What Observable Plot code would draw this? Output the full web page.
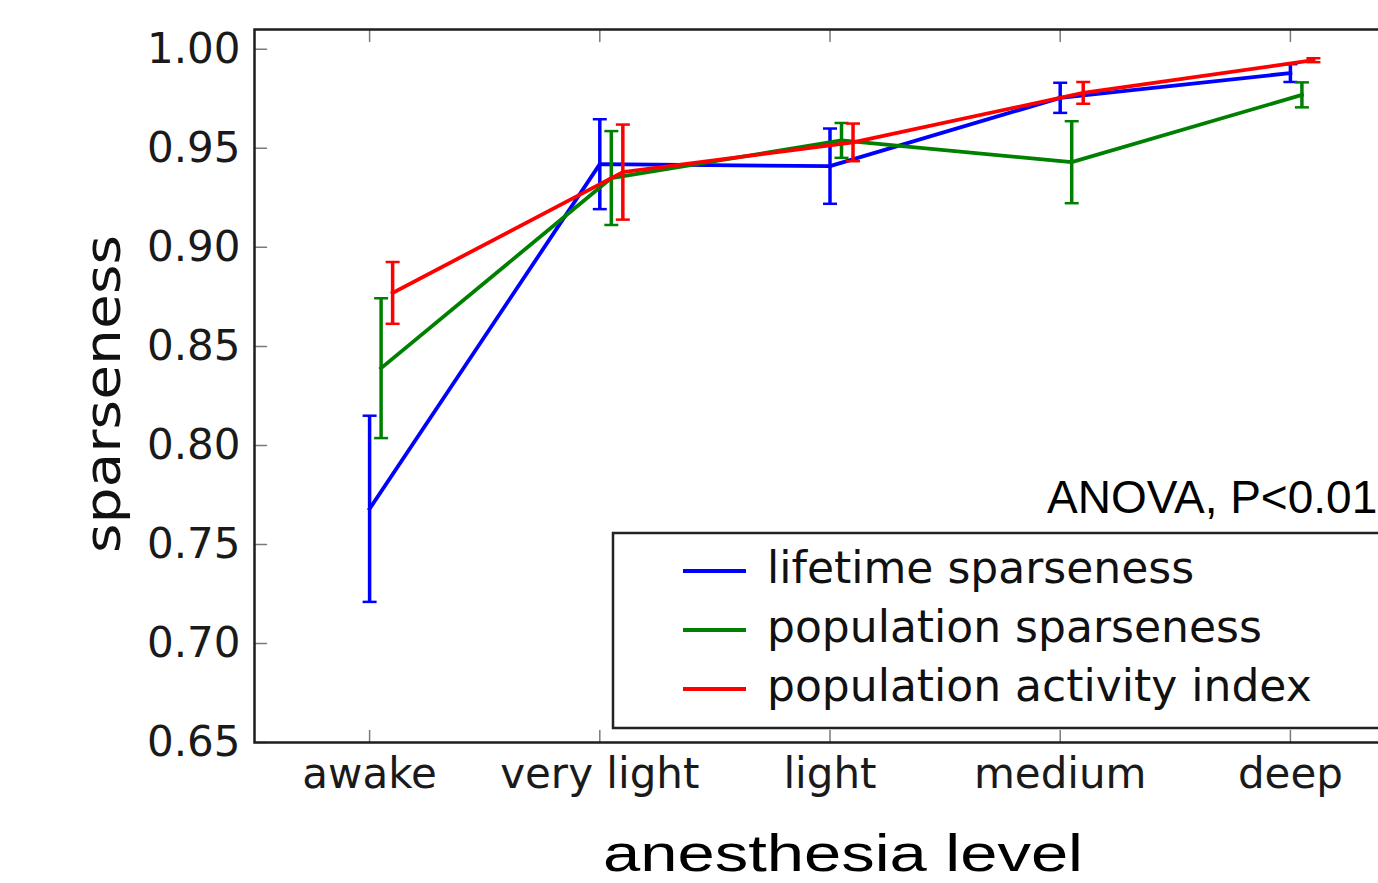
<!DOCTYPE html>
<html>
<head>
<meta charset="utf-8">
<script src="https://cdn.jsdelivr.net/npm/d3@7"></script>
<script src="https://cdn.jsdelivr.net/npm/@observablehq/plot@0.6"></script>
<style>
  html, body { margin: 0; padding: 0; background: #ffffff; overflow: hidden; }
  #chart { width: 1378px; height: 883px; overflow: hidden; }
  #chart svg { display: block; max-width: none !important; width: 1420px !important; height: 883px !important; }
</style>
</head>
<body>
<div id="chart"></div>
<script>
// Anesthesia levels on the x axis
const levels = ["awake", "very light", "light", "medium", "deep"];

// Mean sparseness per level, with error-bar half-widths
const lifetime      = [0.768, 0.942, 0.941, 0.9755, 0.988];
const lifetimeErr   = [0.047, 0.0227, 0.019, 0.0076, 0.0045];
const population    = [0.839, 0.935, 0.954, 0.943, 0.977];
const populationErr = [0.0353, 0.0237, 0.0088, 0.0207, 0.0063];
const activity      = [0.877, 0.938, 0.953, 0.978, 0.9945];
const activityErr   = [0.0156, 0.024, 0.0095, 0.0055, 0.001];

const seriesNames  = ["lifetime sparseness", "population sparseness", "population activity index"];
const seriesColors = ["#0000ff", "#008000", "#ff0000"];
const seriesShift  = [0, 0.05, 0.1];   // small horizontal dodge per series

const yTicks = [0.65, 0.70, 0.75, 0.80, 0.85, 0.90, 0.95, 1.00];
const xDomain = [-0.5, 4.5];
const yDomain = [0.65, 1.01];

const seriesData = [[lifetime, lifetimeErr], [population, populationErr], [activity, activityErr]]
  .map(([vals, errs], s) => vals.map((v, i) => ({
    series: seriesNames[s], i, x: i + seriesShift[s], v, lo: v - errs[i], hi: v + errs[i]
  })));

// horizontal cap for the error bars
const capSymbol = {
  draw(ctx, size) {
    const r = Math.sqrt(size / Math.PI);
    ctx.moveTo(-r, 0);
    ctx.lineTo(r, 0);
  }
};
// straight tick stroke drawn from its anchor point
const spike = {
  draw(ctx, l) {
    ctx.moveTo(0, 0);
    ctx.lineTo(0, -l);
  }
};

const marks = [];
seriesData.forEach((rows, s) => {
  const c = seriesColors[s];
  marks.push(
    Plot.line(rows, { x: "x", y: "v", stroke: c, strokeWidth: 3.8, strokeLinecap: "square" }),
    Plot.ruleX(rows, { x: "x", y1: "lo", y2: "hi", stroke: c, strokeWidth: 3.5 }),
    Plot.dot(rows, { x: "x", y: "hi", r: 7, symbol: capSymbol, stroke: c, strokeWidth: 2.5, fill: "none" }),
    Plot.dot(rows, { x: "x", y: "lo", r: 7, symbol: capSymbol, stroke: c, strokeWidth: 2.5, fill: "none" })
  );
});

const tickStyle = { length: 12, shape: spike, anchor: "start", stroke: "#7a7a7a", strokeWidth: 1.5 };

const chart = Plot.plot({
  width: 1420,
  height: 883,
  marginLeft: 254,
  marginRight: 15,
  marginTop: 29,
  marginBottom: 141,
  style: { fontFamily: "DejaVu Sans", color: "#1a1a1a", background: "#ffffff" },
  x: { domain: xDomain },
  y: { domain: yDomain },
  marks: [
    // inward ticks on bottom, top and left
    Plot.vector(levels, { x: (d, i) => i, y: yDomain[0], rotate: 0, ...tickStyle }),
    Plot.vector(levels, { x: (d, i) => i, y: yDomain[1], rotate: 180, ...tickStyle }),
    Plot.vector(yTicks, { x: xDomain[0], y: d => d, rotate: 90, ...tickStyle }),
    ...marks,
    Plot.frame({ stroke: "#1e1e1e", strokeWidth: 2.5 }),
    Plot.axisX(d3.range(levels.length), {
      anchor: "bottom", tickSize: 0, tickPadding: 16, fontSize: 42,
      tickFormat: i => levels[i], label: null
    }),
    Plot.axisY(yTicks, {
      anchor: "left", tickSize: 0, tickPadding: 14, fontSize: 42,
      tickFormat: d3.format(".2f"), label: null
    })
  ]
});

document.getElementById("chart").appendChild(chart);

const svg = d3.select(chart);

// axis titles
svg.append("text")
  .attr("transform", "translate(120,394) rotate(-90)")
  .attr("text-anchor", "middle")
  .attr("font-family", "DejaVu Sans")
  .attr("font-size", 50)
  .attr("fill", "#111")
  .attr("textLength", 318)
  .attr("lengthAdjust", "spacingAndGlyphs")
  .text("sparseness");

svg.append("text")
  .attr("x", 603).attr("y", 871)
  .attr("text-anchor", "start")
  .attr("font-family", "Liberation Sans, Arial, sans-serif")
  .attr("font-size", 52)
  .attr("fill", "#000")
  .attr("textLength", 480)
  .attr("lengthAdjust", "spacingAndGlyphs")
  .text("anesthesia level");

// statistics note
svg.append("text")
  .attr("x", 1047).attr("y", 513)
  .attr("text-anchor", "start")
  .attr("font-family", "Liberation Sans, Arial, sans-serif")
  .attr("font-size", 46)
  .attr("fill", "#000")
  .text("ANOVA, P<0.01");

// legend box
const lg = svg.append("g").attr("text-anchor", "start");
lg.append("rect")
  .attr("x", 613).attr("y", 533).attr("width", 778).attr("height", 195)
  .attr("fill", "#ffffff").attr("stroke", "#222").attr("stroke-width", 2.5);
seriesNames.forEach((name, k) => {
  const yy = 571 + 59 * k;
  lg.append("line")
    .attr("x1", 683).attr("x2", 746).attr("y1", yy).attr("y2", yy)
    .attr("stroke", seriesColors[k]).attr("stroke-width", 4);
  lg.append("text")
    .attr("x", 767).attr("y", yy + 12)
    .attr("font-family", "DejaVu Sans")
    .attr("font-size", 44)
    .attr("fill", "#111")
    .text(name);
});
</script>
</body>
</html>
